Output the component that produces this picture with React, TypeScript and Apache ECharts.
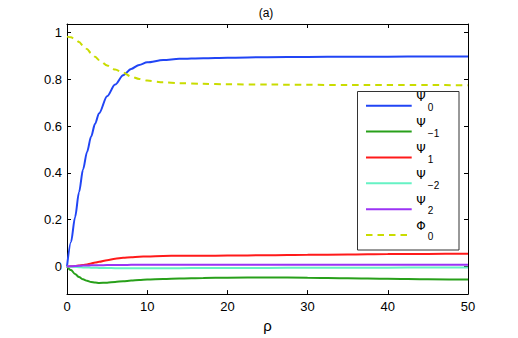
import React, { useEffect, useRef } from 'react';
import * as echarts from 'echarts';

// rho sample positions (x axis)
const rho = [0, 0.5, 1, 1.5, 2, 2.5, 3, 3.5, 4, 5, 6, 7, 8, 9, 10, 12, 14, 17, 20, 25, 30, 35, 40, 45, 50];

const psi0 = [0, 0.105, 0.21, 0.318, 0.415, 0.49, 0.555, 0.61, 0.655, 0.728, 0.778, 0.818, 0.845, 0.862, 0.873, 0.883, 0.888, 0.891, 0.893, 0.895, 0.896, 0.897, 0.897, 0.898, 0.898];
const psiM1 = [0, -0.015, -0.032, -0.045, -0.055, -0.061, -0.066, -0.068, -0.07, -0.069, -0.066, -0.063, -0.06, -0.058, -0.056, -0.053, -0.051, -0.049, -0.048, -0.047, -0.048, -0.05, -0.052, -0.054, -0.056];
const psi1 = [0, 0.001, 0.002, 0.004, 0.006, 0.009, 0.013, 0.017, 0.02, 0.027, 0.033, 0.037, 0.04, 0.042, 0.043, 0.045, 0.046, 0.046, 0.047, 0.048, 0.05, 0.051, 0.053, 0.054, 0.055];
const psiM2 = [0, -0.001, -0.002, -0.003, -0.004, -0.004, -0.005, -0.005, -0.006, -0.006, -0.007, -0.007, -0.007, -0.007, -0.007, -0.007, -0.007, -0.006, -0.006, -0.006, -0.005, -0.005, -0.005, -0.004, -0.004];
const psi2 = [0, 0.001, 0.002, 0.003, 0.004, 0.004, 0.005, 0.005, 0.005, 0.006, 0.006, 0.006, 0.007, 0.007, 0.007, 0.007, 0.007, 0.007, 0.007, 0.007, 0.007, 0.008, 0.008, 0.008, 0.008];
const phi0 = [0.983, 0.98, 0.972, 0.96, 0.945, 0.93, 0.912, 0.897, 0.883, 0.86, 0.842, 0.829, 0.812, 0.802, 0.795, 0.788, 0.784, 0.781, 0.779, 0.778, 0.777, 0.776, 0.776, 0.776, 0.775];

const seriesValues = [psi0, psiM1, psi1, psiM2, psi2, phi0];
const seriesNames = ['Ψ0', 'Ψ−1', 'Ψ1', 'Ψ−2', 'Ψ2', 'Φ0'];
const legendBase = ['Ψ', 'Ψ', 'Ψ', 'Ψ', 'Ψ', 'Φ'];
const legendSub = ['0', '−1', '1', '−2', '2', '0'];
const seriesColors = ['#2145f5', '#28a01a', '#ff1a1a', '#66f2c4', '#9b33f5', '#c9dc00'];
const seriesDashed = [false, false, false, false, false, true];

const xTicks = [0, 10, 20, 30, 40, 50];
const titleText = '(a)';
const xLabel = 'ρ';

const FONT = '"Liberation Sans", Arial, Helvetica, sans-serif';
const GREEK_FONT = '"DejaVu Sans", "Liberation Sans", sans-serif';
const DASH = [6.5, 5];

export default function App() {
  const ref = useRef<HTMLDivElement>(null);

  useEffect(() => {
    const chart = echarts.init(ref.current!, null, { renderer: 'svg' });

    const yFmt = (v: number) => {
      const r = Math.round(v * 5) / 5;
      if (Math.abs(v - r) > 1e-6) return '';
      return String(parseFloat(r.toFixed(1)));
    };

    const yMin = -0.118;
    const yMax = 1.037;

    const axisLine = { show: true, onZero: false, lineStyle: { color: '#000', width: 1 } };
    const axisTickIn = { show: true, inside: true, length: 4, lineStyle: { color: '#000', width: 1 } };

    const legendLeft = 357.5;
    const legendTop = 91.5;
    const lineX1 = 366;
    const lineX2 = 411.7;
    const rowY0 = 105.7;
    const rowStep = 25.86;

    const legendEls: any[] = [
      {
        type: 'rect',
        z: 100,
        shape: { x: legendLeft, y: legendTop, width: 101.5, height: 158.5 },
        style: { fill: '#fff', stroke: '#333', lineWidth: 1 },
      },
    ];
    seriesNames.forEach((_, i) => {
      const y = rowY0 + i * rowStep;
      legendEls.push({
        type: 'line',
        z: 101,
        shape: { x1: lineX1, y1: y, x2: lineX2, y2: y },
        style: { stroke: seriesColors[i], lineWidth: 2, lineDash: seriesDashed[i] ? DASH : null },
      });
      legendEls.push({
        type: 'text',
        z: 101,
        x: 416.3,
        y: y - 8.6,
        style: { text: legendBase[i], fontSize: 12, fontFamily: GREEK_FONT, fill: '#000', align: 'left', verticalAlign: 'middle' },
      });
      legendEls.push({
        type: 'text',
        z: 101,
        x: 427.8,
        y: y + 1.8,
        style: { text: legendSub[i], fontSize: 10, fontFamily: FONT, fill: '#000', align: 'left', verticalAlign: 'middle' },
      });
    });

    chart.setOption({
      animation: false,
      backgroundColor: '#fff',
      textStyle: { fontFamily: FONT },
      grid: { left: 67, right: 50, top: 24, bottom: 39, containLabel: false },
      xAxis: [
        {
          type: 'value',
          min: xTicks[0],
          max: xTicks[xTicks.length - 1],
          interval: 10,
          position: 'bottom',
          axisLine,
          axisTick: axisTickIn,
          splitLine: { show: false },
          axisLabel: { color: '#000', fontSize: 13, fontFamily: FONT, margin: 6 },
          name: xLabel,
          nameLocation: 'middle',
          nameGap: 18,
          nameTextStyle: { color: '#000', fontSize: 15, fontFamily: FONT },
        },
        {
          type: 'value',
          min: xTicks[0],
          max: xTicks[xTicks.length - 1],
          interval: 10,
          position: 'top',
          axisLine,
          axisTick: axisTickIn,
          splitLine: { show: false },
          axisLabel: { show: false },
        },
      ],
      yAxis: [
        {
          type: 'value',
          min: yMin,
          max: yMax,
          splitNumber: 5,
          position: 'left',
          axisLine,
          axisTick: axisTickIn,
          splitLine: { show: false },
          axisLabel: { color: '#000', fontSize: 13, fontFamily: FONT, margin: 5, formatter: yFmt },
        },
        {
          type: 'value',
          min: yMin,
          max: yMax,
          splitNumber: 5,
          position: 'right',
          axisLine,
          axisTick: axisTickIn,
          splitLine: { show: false },
          axisLabel: { show: false },
        },
      ],
      graphic: {
        elements: [
          {
            type: 'text',
            x: 266,
            y: 12.5,
            style: { text: titleText, fontSize: 12, fontFamily: FONT, fill: '#000', align: 'center', verticalAlign: 'middle' },
          },
          ...legendEls,
        ],
      },
      series: seriesNames.map((name, i) => ({
        type: 'line',
        name,
        xAxisIndex: 0,
        yAxisIndex: 0,
        data: rho.map((r, j) => [r, seriesValues[i][j]]),
        showSymbol: false,
        symbol: 'none',
        smooth: 0.3,
        smoothMonotone: 'x',
        lineStyle: { color: seriesColors[i], width: 2, type: seriesDashed[i] ? DASH : 'solid' },
        itemStyle: { color: seriesColors[i] },
        z: 2 + i,
      })),
    });

    return () => chart.dispose();
  }, []);

  return <div ref={ref} style={{ position: 'absolute', left: 0, top: 0, width: 518, height: 338 }} />;
}
